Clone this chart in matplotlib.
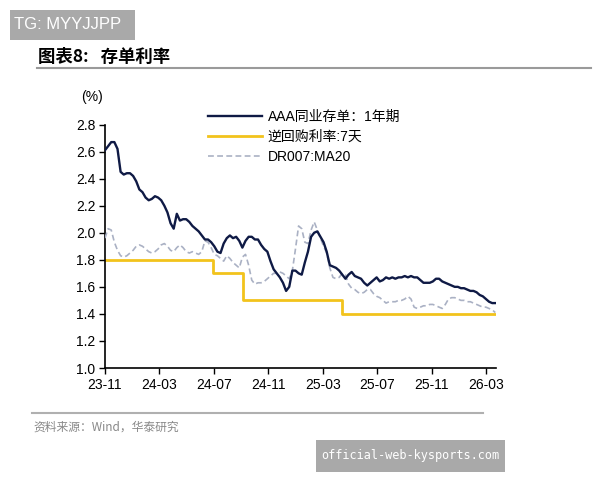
import matplotlib
matplotlib.use("Agg")
import matplotlib.pyplot as plt
import matplotlib.dates as mdates
from matplotlib.patches import Rectangle
import pandas as pd

plt.rcParams['font.family'] = ['Liberation Sans', 'Noto Sans CJK SC']

# ---------------- data ----------------
start_date = "2023-11-23"
n_weeks = 126

aaa_ncd_1y = [
    2.61, 2.64, 2.67, 2.67, 2.62, 2.45, 2.43, 2.44, 2.44, 2.42,
    2.38, 2.32, 2.30, 2.26, 2.24, 2.25, 2.27, 2.26, 2.24, 2.20,
    2.15, 2.07, 2.03, 2.14, 2.09, 2.10, 2.10, 2.08, 2.05, 2.03,
    2.01, 1.98, 1.95, 1.95, 1.93, 1.90, 1.86, 1.85, 1.92, 1.96,
    1.98, 1.96, 1.97, 1.94, 1.89, 1.94, 1.97, 1.97, 1.95, 1.95,
    1.91, 1.88, 1.86, 1.79, 1.73, 1.70, 1.67, 1.63, 1.57, 1.60,
    1.72, 1.72, 1.70, 1.69, 1.78, 1.86, 1.97, 2.00, 2.01, 1.97,
    1.93, 1.86, 1.76, 1.75, 1.74, 1.72, 1.69, 1.66, 1.69, 1.71,
    1.68, 1.67, 1.66, 1.63, 1.61, 1.63, 1.65, 1.67, 1.64, 1.65,
    1.67, 1.66, 1.67, 1.66, 1.67, 1.67, 1.68, 1.67, 1.68, 1.67,
    1.67, 1.65, 1.63, 1.63, 1.63, 1.64, 1.66, 1.66, 1.64, 1.63,
    1.62, 1.61, 1.60, 1.60, 1.59, 1.59, 1.58, 1.57, 1.57, 1.56,
    1.54, 1.53, 1.51, 1.49, 1.48, 1.48,
]

dr007_ma20 = [
    1.96, 2.03, 2.02, 1.93, 1.87, 1.83, 1.82, 1.83, 1.85, 1.87,
    1.90, 1.91, 1.90, 1.88, 1.86, 1.85, 1.86, 1.88, 1.91, 1.92,
    1.90, 1.87, 1.86, 1.89, 1.91, 1.89, 1.86, 1.85, 1.86, 1.85,
    1.84, 1.86, 1.94, 1.93, 1.89, 1.84, 1.83, 1.81, 1.79, 1.83,
    1.81, 1.78, 1.76, 1.74, 1.82, 1.84, 1.76, 1.65, 1.62, 1.63,
    1.63, 1.64, 1.66, 1.68, 1.70, 1.70, 1.71, 1.70, 1.68, 1.66,
    1.72, 1.88, 2.05, 2.03, 1.93, 1.92, 2.02, 2.08, 2.02, 1.96,
    1.90, 1.85, 1.74, 1.67, 1.66, 1.67, 1.70, 1.69, 1.62, 1.59,
    1.58, 1.56, 1.55, 1.56, 1.58, 1.58, 1.55, 1.53, 1.52, 1.50,
    1.48, 1.49, 1.49, 1.49, 1.50, 1.50, 1.51, 1.53, 1.51, 1.45,
    1.44, 1.45, 1.46, 1.46, 1.47, 1.47, 1.46, 1.45, 1.44, 1.47,
    1.51, 1.52, 1.52, 1.51, 1.50, 1.50, 1.49, 1.49, 1.48, 1.47,
    1.46, 1.45, 1.45, 1.44, 1.43, 1.41,
]

repo_dates = ["2023-11-23", "2024-07-22", "2024-09-27", "2025-05-08", "2026-04-16"]
repo_7d = [1.8, 1.7, 1.5, 1.4, 1.4]

tick_dates = ["2023-11-23", "2024-03-24", "2024-07-24", "2024-11-23",
              "2025-03-25", "2025-07-25", "2025-11-24", "2026-03-26"]
y_ticks = [1.0, 1.2, 1.4, 1.6, 1.8, 2.0, 2.2, 2.4, 2.6, 2.8]

labels = ["AAA同业存单：1年期", "逆回购利率:7天", "DR007:MA20"]
title = "图表8:   存单利率"
source = "资料来源：Wind，华泰研究"

# ---------------- plot ----------------
dates = pd.date_range(start_date, periods=n_weeks, freq="7D")
rdates = pd.to_datetime(repo_dates)
tdates = pd.to_datetime(tick_dates)

fig = plt.figure(figsize=(6, 4.8), dpi=100)
ax = fig.add_axes([0.175, 0.2333, 0.652, 0.5073])

l1, = ax.plot(dates, aaa_ncd_1y, color="#0f1a45", lw=1.7, zorder=4)
l2, = ax.plot(rdates, repo_7d, color="#f2c31c", lw=2.0, drawstyle="steps-post", zorder=2)
l3, = ax.plot(dates, dr007_ma20, color="#aab1c4", lw=1.2, ls=(0, (3.5, 2)), zorder=3)

ax.set_ylim(1.0, 2.8)
ax.set_yticks(y_ticks)
ax.set_yticklabels([f"{v:.1f}" for v in y_ticks])
ax.set_xlim(dates[0], dates[-1] + pd.Timedelta(days=2))
ax.set_xticks(tdates)
ax.xaxis.set_major_formatter(mdates.DateFormatter("%y-%m"))

for s in ["top", "right"]:
    ax.spines[s].set_visible(False)
for s in ["left", "bottom"]:
    ax.spines[s].set_linewidth(1.2)
    ax.spines[s].set_color("black")
ax.tick_params(axis="both", direction="out", length=4, width=1.0,
               labelsize=10, colors="black", pad=3)

fig.text(0.135, 0.797, "(%)", fontsize=10, ha="left", va="center")

leg = fig.legend([l1, l2, l3], labels, loc="upper left",
                 bbox_to_anchor=(0.335, 0.785), frameon=False,
                 fontsize=10, handlelength=3.9, labelspacing=0.42,
                 handletextpad=0.4, borderpad=0.0)

# title and rules
fig.text(0.063, 0.881, title, fontsize=12.5, fontweight="bold",
         ha="left", va="center", family=["Noto Sans CJK SC", "Liberation Sans"])
fig.add_artist(plt.Line2D([0.062, 0.985], [0.858, 0.858], color="#9a9a9a", lw=1.5,
                          transform=fig.transFigure))
fig.add_artist(plt.Line2D([0.053, 0.805], [0.140, 0.140], color="#b0b0b0", lw=1.5,
                          transform=fig.transFigure))
fig.text(0.055, 0.110, source, fontsize=8.5, color="#888888", ha="left", va="center",
         family=["Noto Sans CJK SC", "Liberation Sans"])

# watermarks
fig.add_artist(Rectangle((0.0167, 0.9167), 0.2083, 0.0625, transform=fig.transFigure,
                         fc="#a9a9a9", ec="none"))
fig.text(0.1125, 0.948, "TG: MYYJJPP", fontsize=12, color="white", ha="center", va="center")
fig.add_artist(Rectangle((0.5267, 0.0167), 0.315, 0.0667, transform=fig.transFigure,
                         fc="#a9a9a9", ec="none"))
fig.text(0.684, 0.050, "official-web-kysports.com", fontsize=8.6, color="white",
         ha="center", va="center", family="DejaVu Sans Mono")

fig.savefig("out.png", dpi=100)
